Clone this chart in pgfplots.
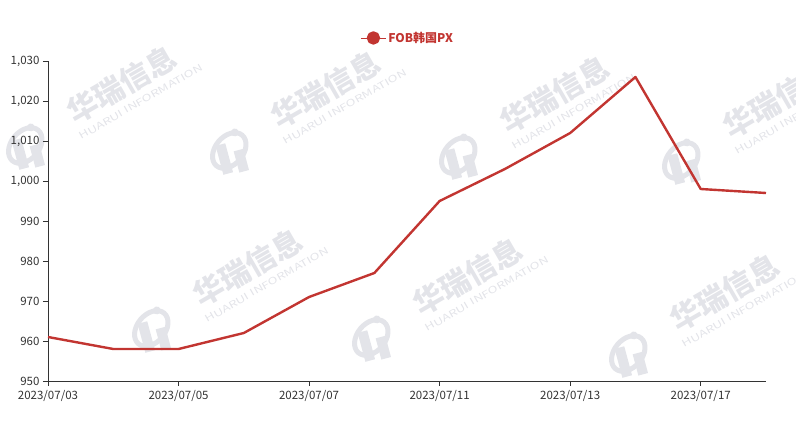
\documentclass[border=0pt]{standalone}
\usepackage{pgfplots}
\pgfplotsset{compat=1.18}
\usepackage{fontspec}
\setmainfont{Noto Sans CJK SC}
\definecolor{lred}{HTML}{C23531}
\definecolor{axgray}{HTML}{333333}
\definecolor{wm}{HTML}{E3E4E9}
\newcommand{\wmark}[2]{%
  \begin{scope}[shift={(#1pt,#2pt)}, rotate=30, transform shape]
    \node[text=wm, font=\fontsize{30}{30}\selectfont\bfseries, inner sep=0] at (0,0) {华瑞信息};
    \node[text=wm, font=\fontsize{9.5}{10}\selectfont, inner sep=0, xscale=1.4] at (8pt,-24pt) {HUARUI INFORMATION};
    \begin{scope}[shift={(-114pt,-4pt)}, rotate=-15]
      \draw[wm, line width=5pt] (0,0) ellipse [x radius=20pt, y radius=14pt, rotate=35];
      \fill[wm] (-12pt,-22pt) rectangle (-2pt,8pt);
      \fill[wm] (4pt,-24pt) rectangle (14pt,-2pt);
      \fill[wm] (10pt,16pt) circle (4pt);
    \end{scope}
  \end{scope}}
\begin{document}
\begin{tikzpicture}
\path[use as bounding box] (-48pt,-50pt) rectangle (748pt,381pt);
\begin{scope}
\clip (-48pt,-50pt) rectangle (748pt,381pt);
\wmark{74}{296}
\wmark{278}{291}
\wmark{507}{286}
\wmark{730}{281}
\wmark{200}{113}
\wmark{420}{104}
\wmark{677}{88}
\end{scope}
\begin{axis}[
  at={(0,0)}, anchor=south west,
  scale only axis, width=718pt, height=320pt,
  xmin=0, xmax=11, ymin=950, ymax=1030,
  xtick={0,2,4,6,8,10},
  xticklabels={2023/07/03,2023/07/05,2023/07/07,2023/07/11,2023/07/13,2023/07/17},
  ytick={950,960,...,1030},
  /pgf/number format/assume math mode=true,
  yticklabel style={/pgf/number format/1000 sep={,}, font=\fontsize{11.5}{12}\selectfont, text=axgray},
  xticklabel style={font=\fontsize{11.5}{12}\selectfont, text=axgray, yshift=-1pt},
  axis x line*=bottom, axis y line*=left,
  axis line style={axgray, line width=0.8pt},
  x axis line style={-}, y axis line style={-},
  tick style={axgray, line width=0.8pt},
  tick align=outside, major tick length=5pt,
  legend style={at={(0.501,1.072)}, anchor=center, draw=none, fill=none,
    font=\fontsize{12}{12}\selectfont\bfseries, text=lred},
  legend image code/.code={
    \draw[lred, line width=0.8pt] (0pt,0pt) -- (25pt,0pt);
    \fill[lred] (12.5pt,0pt) circle (5.5pt);
  },
]
\addplot[lred, line width=2.4pt, line join=round] coordinates {
(0,961) (1,958) (2,958) (3,962) (4,971) (5,977) (6,995) (7,1003) (8,1012) (9,1026) (10,998) (11,997)
};
\addlegendentry{FOB韩国PX}
\end{axis}
\end{tikzpicture}
\end{document}
